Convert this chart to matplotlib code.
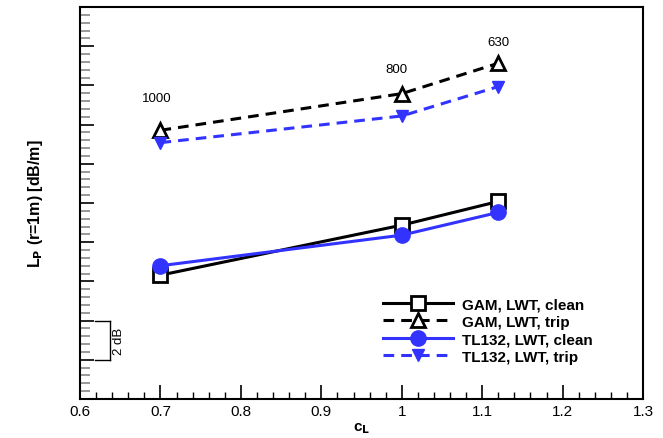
import matplotlib.pyplot as plt
from matplotlib.ticker import MultipleLocator, NullFormatter

plt.rcParams['font.family'] = ['Liberation Sans', 'DejaVu Sans']

# data: lift coefficient vs level (dB, relative, 2 dB per major tick)
cl = [0.7, 1.0, 1.12]
gam_clean = [6.32, 8.87, 10.08]
gam_trip = [13.71, 15.58, 17.13]
tl_clean = [6.80, 8.36, 9.52]
tl_trip = [13.08, 14.44, 15.94]

freq_labels = ["1000", "800", "630"]
freq_x = [0.695, 0.993, 1.12]
freq_y = [15.34, 16.82, 18.23]

blue = "#3333ff"

fig = plt.figure(figsize=(6.63, 4.39), dpi=100)
ax = fig.add_axes([0.1207, 0.0888, 0.8493, 0.893])

dash = (0, (3.5, 2.3))
ax.plot(cl, gam_clean, color="black", lw=2.2, marker="s", ms=10,
        mfc="white", mec="black", mew=2, label="GAM, LWT, clean")
ax.plot(cl, gam_trip, color="black", lw=2.2, ls=dash, marker="^", ms=10,
        mfc="white", mec="black", mew=2, label="GAM, LWT, trip")
ax.plot(cl, tl_clean, color=blue, lw=2.2, marker="o", ms=11,
        mfc=blue, mec=blue, label="TL132, LWT, clean")
ax.plot(cl, tl_trip, color=blue, lw=2.2, ls=dash, marker="v", ms=9,
        mfc=blue, mec=blue, label="TL132, LWT, trip")

for t, x, y in zip(freq_labels, freq_x, freq_y):
    ax.text(x, y, t, ha="center", va="center", fontsize=9.5)

# 2 dB scale bar
ax.plot([0.619, 0.637], [4, 4], color="black", lw=1)
ax.plot([0.619, 0.637], [2, 2], color="black", lw=1)
ax.plot([0.637, 0.637], [2, 4], color="black", lw=1)
ax.text(0.648, 3, "2 dB", rotation=90, ha="center", va="center", fontsize=9.5)

ax.set_xlim(0.6, 1.3)
ax.set_ylim(0, 20)
ax.xaxis.set_major_locator(MultipleLocator(0.1))
ax.xaxis.set_minor_locator(MultipleLocator(0.02))
ax.yaxis.set_major_locator(MultipleLocator(2))
ax.yaxis.set_minor_locator(MultipleLocator(0.4))
ax.yaxis.set_major_formatter(NullFormatter())
ax.set_xticks([0.6, 0.7, 0.8, 0.9, 1.0, 1.1, 1.2, 1.3])
ax.set_xticklabels(["0.6", "0.7", "0.8", "0.9", "1", "1.1", "1.2", "1.3"])

ax.tick_params(which="both", direction="in", top=False, right=False, labelsize=11)
ax.tick_params(which="major", length=10, width=1.2)
ax.tick_params(axis="x", which="minor", length=5, width=1)
ax.tick_params(axis="y", which="minor", length=7, width=1.2, color="#888888")
for s in ax.spines.values():
    s.set_linewidth(1.5)

ax.set_xlabel("c$_\\mathbf{L}$", fontsize=11, fontweight="bold", labelpad=2)
ax.set_ylabel("L$_\\mathbf{P}$ (r=1m) [dB/m]", fontsize=11.5, fontweight="bold", labelpad=22)

ax.legend(loc="upper left", bbox_to_anchor=(0.538, 0.259), frameon=False,
          borderaxespad=0, borderpad=0,
          handlelength=4.6, handletextpad=0.6, labelspacing=0.22,
          prop={"weight": "bold", "size": 11})

fig.savefig("out.png", dpi=100)
